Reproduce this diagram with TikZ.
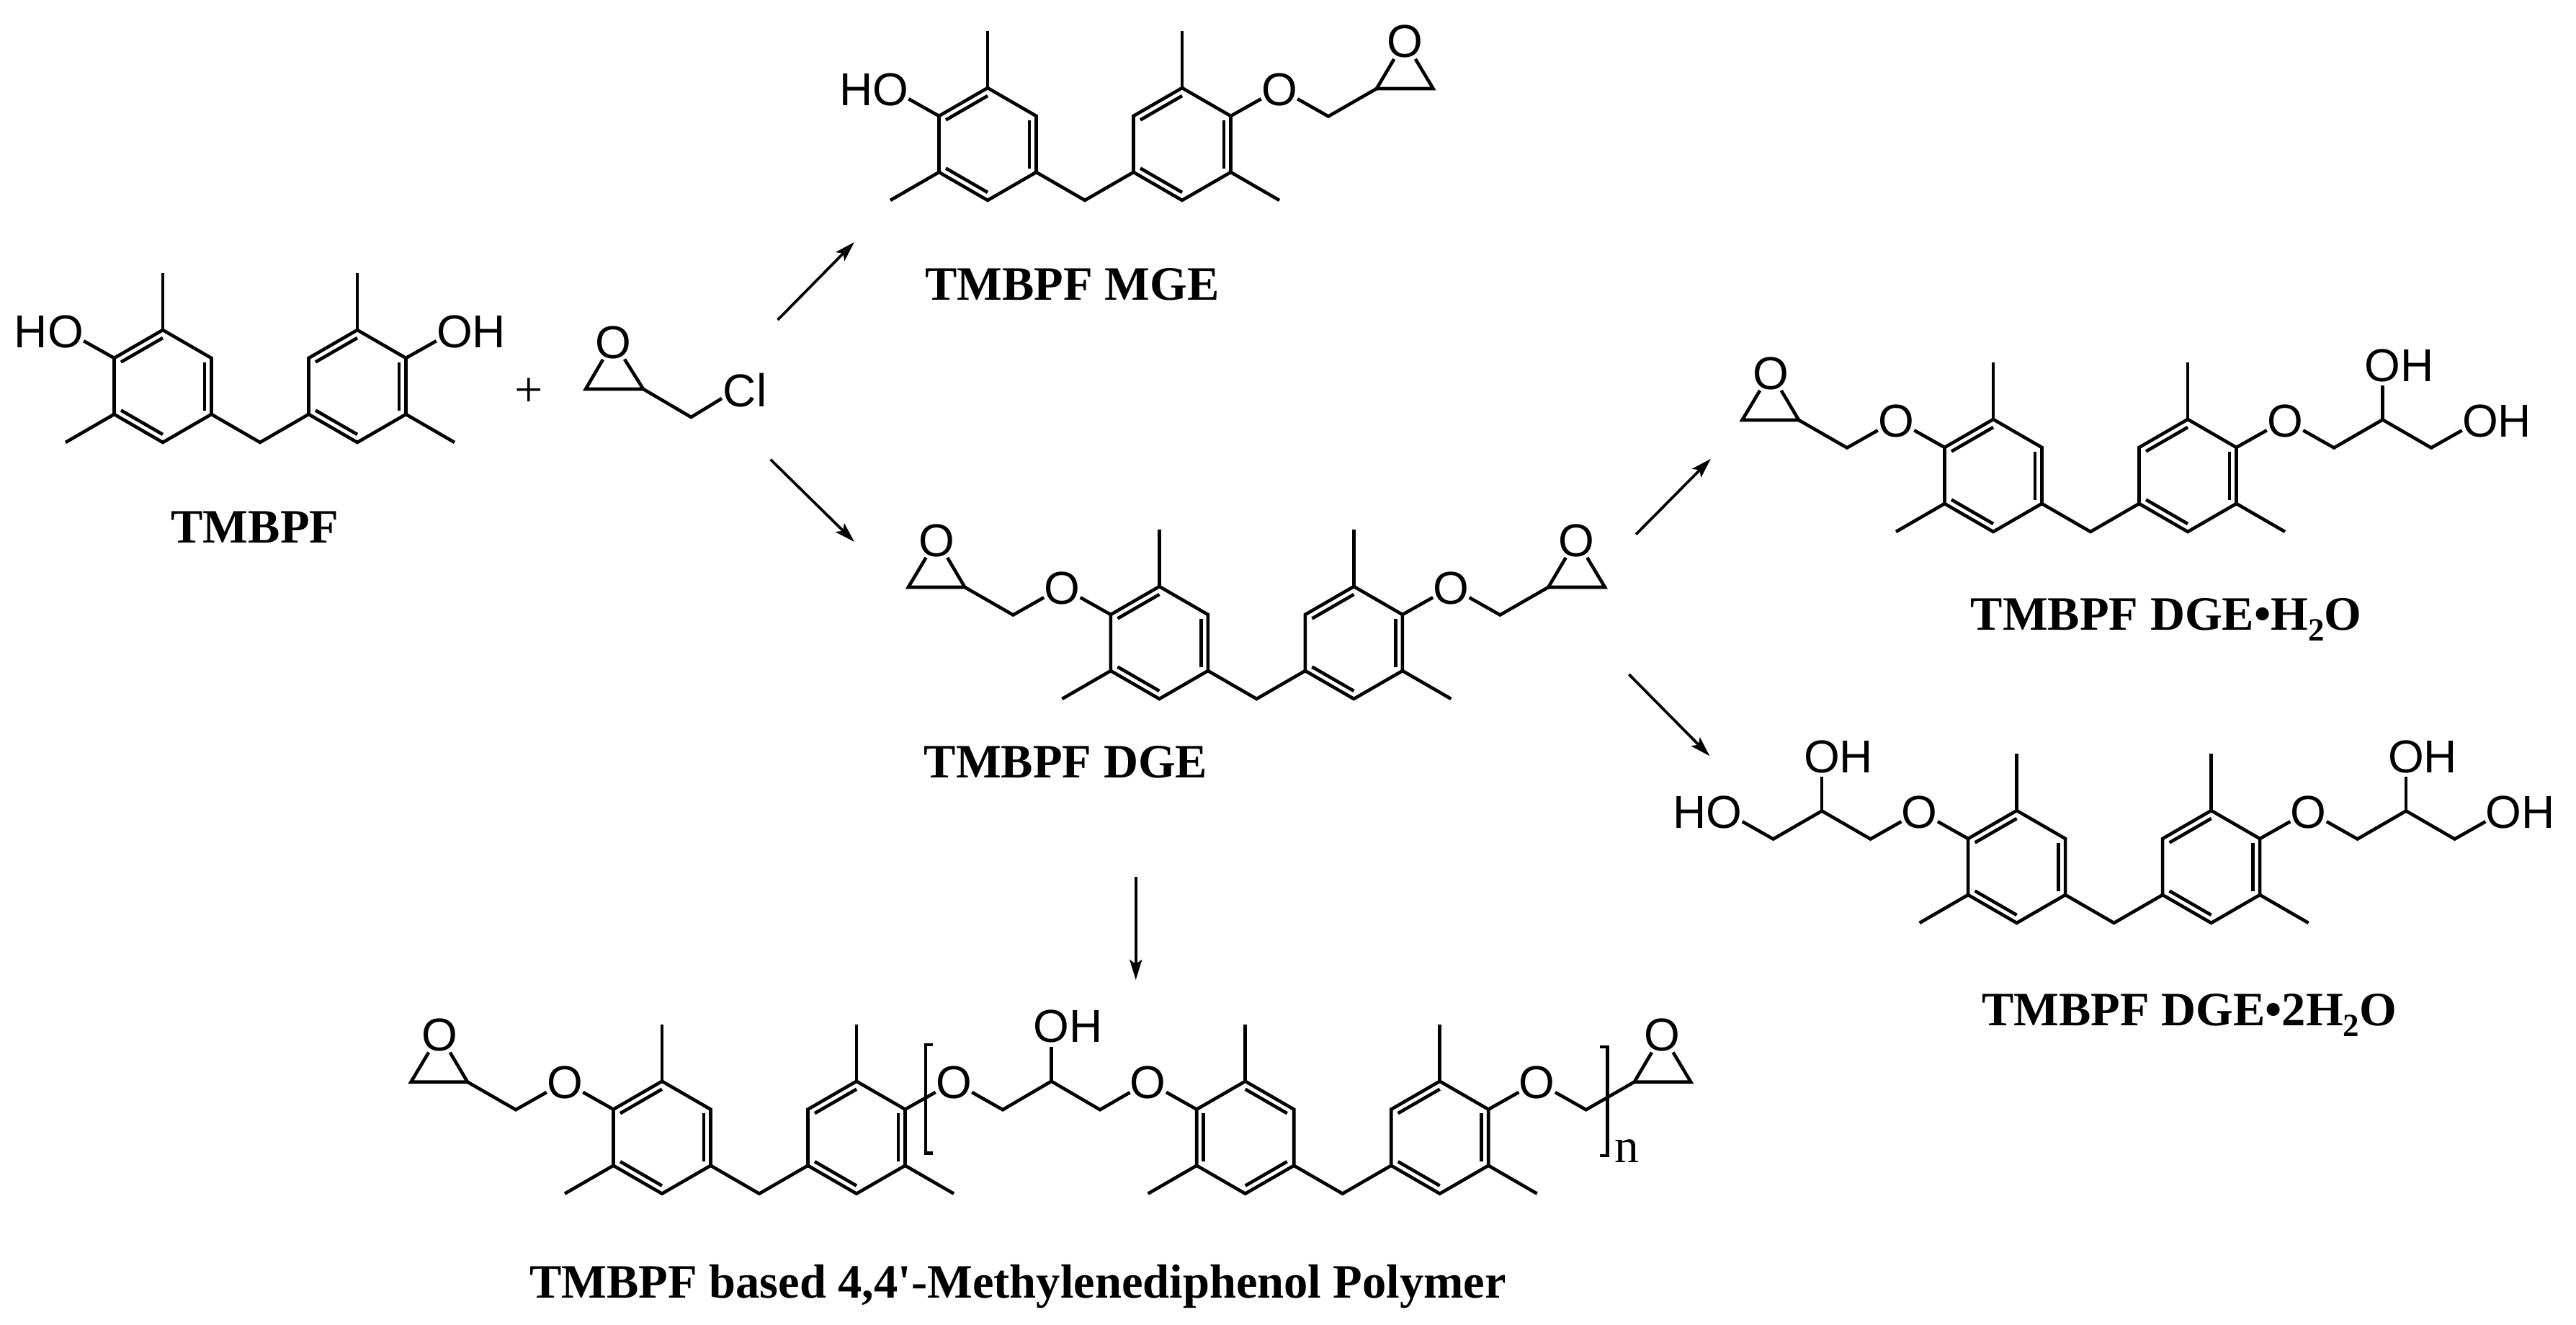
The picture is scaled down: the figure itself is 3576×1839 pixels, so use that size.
\documentclass[tikz,border=0pt]{standalone}
\usepackage{fontspec}
\setmainfont[Ligatures=TeXOff]{Liberation Serif}
\newfontfamily\atomf{Liberation Sans}
\usetikzlibrary{arrows.meta}
\tikzset{
  bond/.style={line width=0.92pt,line join=miter,line cap=butt},
  atom/.style={circle,inner sep=0pt,outer sep=0pt,minimum size=11.6pt,
    font=\atomf\fontsize{12.8}{14}\selectfont},
  lbl/.style={anchor=base,inner sep=0pt,font=\bfseries\fontsize{13.3}{15}\selectfont},
  rxn/.style={line width=0.75pt,-{Stealth[length=5.6pt,width=3.4pt,inset=1.2pt]}},
}
\newcommand\atomtxt[1]{\raisebox{-4.6pt}[0pt][0pt]{#1}}
\newcommand\atomO{\atomtxt{\makebox[0pt][c]{O}}}
\newcommand\atomOH{\atomtxt{\makebox[0pt][l]{\kern-5pt OH}}}
\newcommand\atomHO{\atomtxt{\makebox[0pt][r]{HO\kern-5pt}}}
\newcommand\subtwo{\raisebox{-3pt}{\fontsize{9}{9}\selectfont 2}}
% one six-membered ring, centred on column #1 (relative to the CH2 origin)
\newcommand\ringA[1]{%
  \draw[bond] (#1,-156) -- ++(67.5,39) -- ++(0,78) -- ++(-67.5,39) -- ++(-67.5,-39) -- ++(0,-78) -- cycle;
  \draw[bond] (#1-58,-111.5) -- (#1,-145);
  \draw[bond] (#1+58,-111.5) -- (#1+58,-44.5);
  \draw[bond] (#1-58,-44.5) -- (#1,-11);
}
\newcommand\ringB[1]{%
  \draw[bond] (#1,-156) -- ++(67.5,39) -- ++(0,78) -- ++(-67.5,39) -- ++(-67.5,-39) -- ++(0,-78) -- cycle;
  \draw[bond] (#1+58,-111.5) -- (#1,-145);
  \draw[bond] (#1-58,-111.5) -- (#1-58,-44.5);
  \draw[bond] (#1+58,-44.5) -- (#1,-11);
}
% bis-aryl methane core; #1 name, #2 #3 CH2 position, #4 left-ring macro
\newcommand\bpcore[4]{%
  \begin{scope}[shift={(#2,#3)}]
    \coordinate (#1m) at (0,0);
    \coordinate (#1p) at (-67.5,-39);
    \coordinate (#1q) at (67.5,-39);
    #4{-135}
    \ringA{135}
    \draw[bond] (#1p) -- (#1m) -- (#1q);
    \draw[bond] (-135,-156) -- (-135,-235);
    \draw[bond] (135,-156) -- (135,-235);
    \draw[bond] (-202.5,-39) -- (-270,0);
    \draw[bond] (202.5,-39) -- (270,0);
  \end{scope}}
% hydroxyl on a ring: #1 name, #2 #3 origin, #4 side, #5 text
\newcommand\hydrox[5]{%
  \begin{scope}[shift={(#2,#3)},xscale=#4]
    \coordinate (#1R) at (202.5,-117);
    \node[atom] (#1O) at (270,-155) {#5};
    \draw[bond] (#1R) -- (#1O);
  \end{scope}}
% glycidyl ether
\newcommand\epox[4]{%
  \begin{scope}[shift={(#2,#3)},xscale=#4]
    \coordinate (#1R) at (202.5,-117);
    \node[atom] (#1O) at (270,-155) {\atomO};
    \coordinate (#1a) at (338,-116.5);
    \coordinate (#1b) at (405,-155);
    \coordinate (#1c) at (483.5,-155);
    \node[atom] (#1E) at (444,-221) {\atomO};
    \draw[bond] (#1R) -- (#1O);
    \draw[bond] (#1O) -- (#1a) -- (#1b);
    \draw[bond] (#1E) -- (#1b) -- (#1c) -- (#1E);
  \end{scope}}
% diol ether; #5 = text of the end group
\newcommand\diol[5]{%
  \begin{scope}[shift={(#2,#3)},xscale=#4]
    \coordinate (#1R) at (202.5,-117);
    \node[atom] (#1O) at (270,-155) {\atomO};
    \coordinate (#1a) at (338,-116.5);
    \coordinate (#1b) at (405.5,-155.5);
    \coordinate (#1d) at (473,-116.5);
    \node[atom] (#1U) at (405.5,-232) {\atomOH};
    \node[atom] (#1T) at (541,-155) {#5};
    \draw[bond] (#1R) -- (#1O);
    \draw[bond] (#1O) -- (#1a) -- (#1b) -- (#1d) -- (#1T);
    \draw[bond] (#1b) -- (#1U);
  \end{scope}}
\begin{document}
\begin{tikzpicture}[x=0.2pt,y=-0.2pt]
\fill[white] (0,0) rectangle (3576,1839);
\useasboundingbox (0,0) rectangle (3576,1839);

% TMBPF
\bpcore{tm}{361}{614}{\ringA}
\hydrox{tmL}{361}{614}{-1}{\atomHO}
\hydrox{tmR}{361}{614}{1}{\atomOH}
\node[lbl] (lblTM) at (354,753) {TMBPF};

% plus and epichlorohydrin
\node[inner sep=0pt,font=\fontsize{14}{16}\selectfont] (plus) at (734.5,545) {+};
\node[atom] (ecO) at (851.6,474) {\atomO};
\coordinate (ecA) at (813,540);
\coordinate (ecB) at (893,540);
\coordinate (ecC) at (959.4,579);
\node[atom,minimum size=9pt] (ecCl) at (1034,541.5) {\atomtxt{\makebox[0pt][c]{Cl}}};
\draw[bond] (ecO) -- (ecA) -- (ecB) -- (ecO);
\draw[bond] (ecB) -- (ecC) -- (1002,553);

% MGE
\bpcore{mg}{1506}{278}{\ringA}
\hydrox{mgL}{1506}{278}{-1}{\atomHO}
\epox{mgR}{1506}{278}{1}
\node[lbl] (lblMG) at (1488.5,416) {TMBPF MGE};

% DGE
\bpcore{dg}{1744.4}{970}{\ringA}
\epox{dgL}{1744.4}{970}{-1}
\epox{dgR}{1744.4}{970}{1}
\node[lbl] (lblDG) at (1479.5,1079) {TMBPF DGE};

% DGE H2O
\bpcore{dh}{2902}{738}{\ringA}
\epox{dhL}{2902}{738}{-1}
\diol{dhR}{2902}{738}{1}{\atomOH}
\node[lbl] (lblDH) at (3007,874) {TMBPF DGE•H\subtwo O};

% DGE 2H2O
\bpcore{dw}{2934.6}{1281}{\ringA}
\diol{dwL}{2934.6}{1281}{-1}{\atomHO}
\diol{dwR}{2934.6}{1281}{1}{\atomOH}
\node[lbl] (lblDW) at (3039,1423) {TMBPF DGE•2H\subtwo O};

% polymer
\bpcore{pa}{1054}{1656.7}{\ringA}
\bpcore{pb}{1863.7}{1656.7}{\ringB}
\epox{paL}{1054}{1656.7}{-1}
\epox{pbR}{1863.7}{1656.7}{1}
\begin{scope}[shift={(1054,1656.7)}]
  \coordinate (paR) at (202.5,-117);
  \node[atom] (paO) at (270,-155) {\atomO};
  \coordinate (paA) at (338,-116.5);
  \coordinate (paB) at (405.5,-156);
  \coordinate (paD) at (473,-116.5);
  \node[atom] (paU) at (405.5,-233) {\atomOH};
\end{scope}
\begin{scope}[shift={(1863.7,1656.7)}]
  \coordinate (pbL) at (-202.5,-117);
  \node[atom] (pbO) at (-270,-155) {\atomO};
\end{scope}
\draw[bond] (paR) -- (paO);
\draw[bond] (paO) -- (paA) -- (paB) -- (paD) -- (pbO);
\draw[bond] (paB) -- (paU);
\draw[bond] (pbO) -- (pbL);
\coordinate (brLa) at (1294.5,1450);
\coordinate (brLb) at (1285,1450);
\coordinate (brLc) at (1285,1600.7);
\coordinate (brLd) at (1294.5,1600.7);
\coordinate (brRa) at (2220.8,1453);
\coordinate (brRb) at (2231.3,1453);
\coordinate (brRc) at (2231.3,1604);
\coordinate (brRd) at (2220.8,1604);
\draw[bond] (brLa) -- (brLb) -- (brLc) -- (brLd);
\draw[bond] (brRa) -- (brRb) -- (brRc) -- (brRd);
\node[anchor=base,inner sep=0pt,font=\fontsize{13.5}{15}\selectfont] (nn) at (2258,1613) {n};
\node[lbl] (lblPO) at (1413,1801.7) {TMBPF based 4,4'-Methylenediphenol Polymer};

% reaction arrows
\coordinate (a1s) at (1079.6,444);  \coordinate (a1e) at (1186,336);
\coordinate (a2s) at (1069.6,637.7);\coordinate (a2e) at (1186,752);
\coordinate (a3s) at (2271,741.7);  \coordinate (a3e) at (2375,636.7);
\coordinate (a4s) at (2261.4,936);  \coordinate (a4e) at (2373.4,1049.3);
\coordinate (a5s) at (1576.7,1216.7);   \coordinate (a5e) at (1576.7,1360);
\draw[rxn] (a1s) -- (a1e);
\draw[rxn] (a2s) -- (a2e);
\draw[rxn] (a3s) -- (a3e);
\draw[rxn] (a4s) -- (a4e);
\draw[rxn] (a5s) -- (a5e);
\end{tikzpicture}
\end{document}
